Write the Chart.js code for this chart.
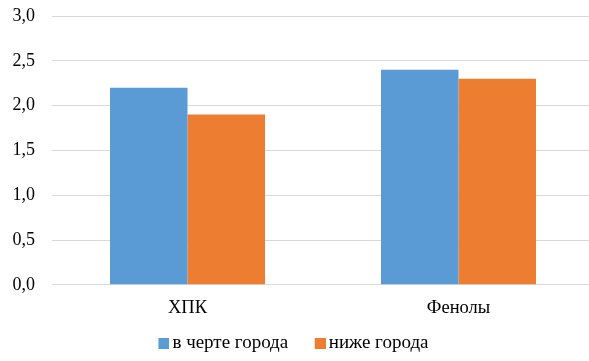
<!DOCTYPE html>
<html><head><meta charset="utf-8">
<script src="https://cdn.jsdelivr.net/npm/chart.js@4/dist/chart.umd.min.js"></script>
<style>
html,body{margin:0;padding:0;overflow:hidden;background:#fff;width:589px;height:361px}
#wrap{width:594px;height:361px;position:relative}
</style>
</head><body><div id="wrap"><canvas id="c" width="594" height="361"></canvas></div>
<script>
const categories = ['ХПК', 'Фенолы'];
const seriesNames = ['в черте города', 'ниже города'];
const inCity = [2.2, 2.4];
const belowCity = [1.9, 2.3];
const yMin = 0, yMax = 3, yStep = 0.5;
const colors = ['#5B9BD5', '#ED7D31'];

const family = "'Liberation Serif', 'Times New Roman', serif";
const yFont = {family: family, size: 18};
const xFont = {family: family, size: 18.5};
const legendFont = {family: family, size: 19};

function swatch(color) {
  const c = document.createElement('canvas');
  c.width = 14; c.height = 11;
  const g = c.getContext('2d');
  g.fillStyle = color; g.fillRect(3, 0, 11, 11);
  return c;
}

const legendSizer = {
  id: 'legendSizer',
  afterInit(chart) {
    const lg = chart.legend;
    if (!lg) return;
    const orig = lg.fit.bind(lg);
    lg.fit = function () { orig(); this.height = 42; };
  },
  afterLayout(chart) {
    const lg = chart.legend;
    if (!lg) return;
    lg.top -= 15;
    lg.left -= 3.6;
  }
};

function draw() {
  new Chart(document.getElementById('c'), {
    type: 'bar',
    data: {
      labels: categories,
      datasets: [
        {label: seriesNames[0], data: inCity, backgroundColor: colors[0]},
        {label: seriesNames[1], data: belowCity, backgroundColor: colors[1]}
      ]
    },
    plugins: [legendSizer],
    options: {
      responsive: false,
      animation: false,
      devicePixelRatio: 1,
      layout: {padding: {top: 16, left: 0, right: 0, bottom: 0}},
      datasets: {bar: {categoryPercentage: 0.572, barPercentage: 1}},
      scales: {
        x: {
          grid: {display: false, drawTicks: false},
          border: {display: false},
          ticks: {color: '#000', font: xFont, padding: 12},
          afterFit: s => { s.height = 34.2; }
        },
        y: {
          min: yMin, max: yMax,
          ticks: {stepSize: yStep, padding: 17, color: '#000', font: yFont,
            callback: v => v.toFixed(1).replace('.', ',')},
          grid: {color: '#d9d9d9', drawTicks: false},
          border: {display: false},
          afterFit: s => { s.width = 52; s.paddingTop = 0; s.paddingBottom = 0; }
        }
      },
      plugins: {
        legend: {
          position: 'bottom',
          labels: {
            usePointStyle: true, boxWidth: 1, boxHeight: 11, padding: 30,
            color: '#000', font: legendFont,
            generateLabels(chart) {
              const items = Chart.defaults.plugins.legend.labels.generateLabels(chart);
              items.forEach((it, i) => { it.pointStyle = swatch(colors[i]); });
              return items;
            }
          }
        },
        tooltip: {enabled: false}
      }
    }
  });
}

if (document.fonts && document.fonts.load) {
  document.fonts.load("18px 'Liberation Serif'", 'ХПК').then(draw, draw);
} else { draw(); }
</script>
</body></html>
